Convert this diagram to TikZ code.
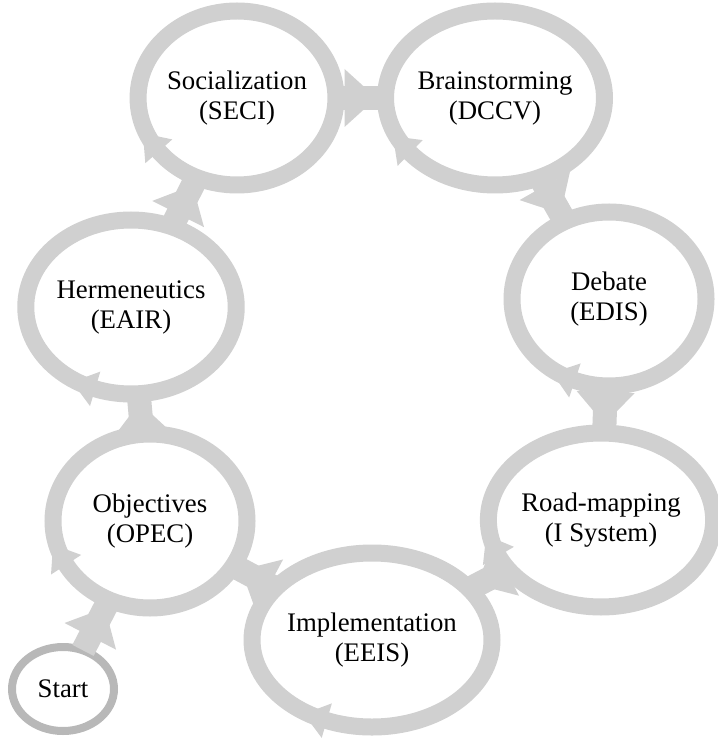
\documentclass[tikz,border=0pt]{standalone}
\usepackage{fontspec}
\setmainfont{Liberation Serif}
\usetikzlibrary{shapes.geometric,decorations.markings}
\definecolor{ringgray}{RGB}{208,208,208}
\definecolor{startgray}{RGB}{184,184,184}
\begin{document}
\begin{tikzpicture}[x=0.5pt,y=-0.5pt,
  labelfont/.style={font=\fontsize{13.4}{15}\selectfont, text=black, align=center},
  stage/.style={ellipse, draw=ringgray, line width=8.5pt, minimum width=97pt,
    minimum height=87pt, inner sep=0pt, outer sep=0pt, labelfont},
  % small clockwise arrow barb sitting on a stage ring
  cyclebarb/.style={postaction={decorate, decoration={markings,
    mark=at position #1 with {\fill[ringgray] (0pt,9pt) -- (-12pt,0pt) -- (0pt,-9pt) -- cycle;}}}},
  startnode/.style={ellipse, draw=startgray, line width=4pt, minimum width=51pt,
    minimum height=42pt, inner sep=0pt, outer sep=0pt, labelfont},
  % thick bar between two stages with a wide head near the target
  flow/.style={draw=ringgray, line width=12pt, postaction={decorate, decoration={markings,
    mark=at position -4.5pt with {\fill[ringgray] (0pt,0pt) -- (-16pt,14.5pt) -- (-16pt,-14.5pt) -- cycle;}}}}
]
\useasboundingbox (0,0) rectangle (717,742);

\node[stage, cyclebarb=0.60] (soc)    at (237,98)  {Socialization\\(SECI)};
\node[stage, cyclebarb=0.60] (brain)  at (495,98)  {Brainstorming\\(DCCV)};
\node[stage, cyclebarb=0.69] (debate) at (609,299) {Debate\\(EDIS)};
\node[stage, cyclebarb=0.56] (road)   at (601,520) {Road-mapping\\(I System)};
\node[stage, cyclebarb=0.68] (impl)   at (372,640) {Implementation\\(EEIS)};
\node[stage, cyclebarb=0.58] (obj)    at (150,521) {Objectives\\(OPEC)};
\node[stage, cyclebarb=0.69] (herm)   at (131,307) {Hermeneutics\\(EAIR)};
\node[startnode] (start) at (63,689) {Start};

\draw[flow] (start)  -- (obj);
\draw[flow] (obj)    -- (herm);
\draw[flow] (herm)   -- (soc);
\draw[flow] (soc)    -- (brain);
\draw[flow] (brain)  -- (debate);
\draw[flow] (debate) -- (road);
\draw[flow] (road)   -- (impl);
\draw[flow] (impl)   -- (obj);
\end{tikzpicture}
\end{document}
